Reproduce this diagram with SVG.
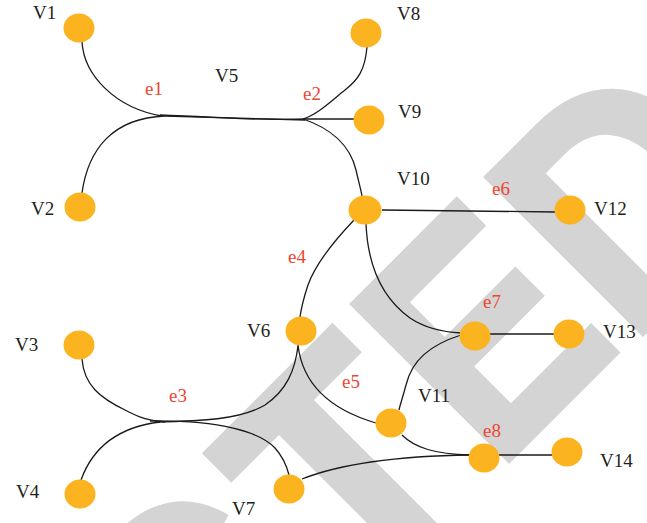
<svg xmlns="http://www.w3.org/2000/svg" width="647" height="523" viewBox="0 0 647 523">
<style>
.wm{font-family:"Liberation Sans",Arial,sans-serif;font-weight:bold;font-size:320px;fill:#d4d4d4;stroke:#d4d4d4;stroke-width:6;stroke-linejoin:miter}
.node{fill:#fbb31f}
.lbl{font-family:"Liberation Serif","Times New Roman",serif;font-size:19px;fill:#231f20}
.elbl{font-family:"Liberation Serif","Times New Roman",serif;font-size:19px;fill:#ec4632}
.edge{fill:none;stroke:#1a1a1a;stroke-width:1.3}
</style>
<rect width="647" height="523" fill="#ffffff"/>
<g id="watermark">
<text class="wm" transform="translate(210,764) rotate(-45) scale(0.9,1)" x="-13" y="-3">C</text>
<text class="wm" transform="translate(364,611) rotate(-45) scale(0.95,1)" x="-4" y="-3">T</text>
<text class="wm" transform="translate(510,463) rotate(-45) scale(0.85,1)" x="-20" y="-3">E</text>
<text class="wm" transform="translate(644,336) rotate(-45) scale(0.9,1)" x="-20" y="-3">D</text>
</g>
<g id="connectors">
<path class="edge" d="M82,42 C84,75 115,108 162,116"/>
<path class="edge" d="M82,193 C88,150 112,118 165,116"/>
<path class="edge" d="M160,115 C220,117 260,121 305,119"/>
<path class="edge" d="M165,116 L305,120"/>
<path class="edge" d="M367,47 C365,70 358,80 345,90 C330,102 318,114 303,119"/>
<path class="edge" d="M303,119 L356,119"/>
<path class="edge" d="M303,119 C330,128 350,145 356,170 C359,183 361,190 362,196"/>
<path class="edge" d="M382,210 L555,212"/>
<path class="edge" d="M354,220 C335,240 315,265 308,285 C303,300 301,310 300,317"/>
<path class="edge" d="M366,224 C368,270 385,300 410,318 C425,328 440,332 461,333"/>
<path class="edge" d="M490,334 L555,334"/>
<path class="edge" d="M461,335 C430,345 412,360 406,385 C402,400 400,405 399,410"/>
<path class="edge" d="M298,345 C302,380 325,408 376,423"/>
<path class="edge" d="M402,435 C415,448 435,454 470,455"/>
<path class="edge" d="M498,455 L552,455"/>
<path class="edge" d="M302,479 C340,464 400,456 470,455"/>
<path class="edge" d="M82,359 C84,385 100,398 125,410 C140,418 150,421 165,422"/>
<path class="edge" d="M81,480 C90,455 110,428 160,422"/>
<path class="edge" d="M155,422 C200,421 240,420 265,405 C287,390 295,370 298,346"/>
<path class="edge" d="M150,421 C220,420 260,432 275,448 C284,458 287,467 289,475"/>
</g>
<g id="V1"><ellipse class="node" cx="79" cy="28" rx="15.5" ry="14.5"/><text class="lbl" x="33" y="19">V1</text></g>
<g id="V2"><ellipse class="node" cx="80" cy="207" rx="15.5" ry="14.5"/><text class="lbl" x="31" y="215">V2</text></g>
<g id="V5"><text class="lbl" x="215" y="82">V5</text></g>
<g id="V8"><ellipse class="node" cx="366" cy="33" rx="15.5" ry="14.5"/><text class="lbl" x="397" y="20">V8</text></g>
<g id="V9"><ellipse class="node" cx="369" cy="120" rx="15.5" ry="14.5"/><text class="lbl" x="398" y="118">V9</text></g>
<g id="V10"><ellipse class="node" cx="365" cy="210" rx="16.5" ry="14.5"/><text class="lbl" x="397" y="185">V10</text></g>
<g id="V12"><ellipse class="node" cx="570" cy="210" rx="15.5" ry="14.5"/><text class="lbl" x="594" y="215">V12</text></g>
<g id="V3"><ellipse class="node" cx="79" cy="345" rx="15.5" ry="14.5"/><text class="lbl" x="15" y="351">V3</text></g>
<g id="V4"><ellipse class="node" cx="80" cy="494" rx="15.5" ry="14.5"/><text class="lbl" x="16" y="498">V4</text></g>
<g id="V6"><ellipse class="node" cx="301" cy="331" rx="15.5" ry="14.5"/><text class="lbl" x="247" y="337">V6</text></g>
<g id="V7"><ellipse class="node" cx="289" cy="489" rx="15.5" ry="14.5"/><text class="lbl" x="232" y="515">V7</text></g>
<g id="V11"><ellipse class="node" cx="391" cy="423" rx="15.5" ry="14.5"/><text class="lbl" x="418" y="402">V11</text></g>
<g id="N7"><ellipse class="node" cx="475" cy="336" rx="15.5" ry="14.5"/></g>
<g id="V13"><ellipse class="node" cx="569" cy="334" rx="15.5" ry="14.5"/><text class="lbl" x="603" y="338">V13</text></g>
<g id="N8"><ellipse class="node" cx="484" cy="458" rx="15.5" ry="14.5"/></g>
<g id="V14"><ellipse class="node" cx="567" cy="452" rx="15.5" ry="14.5"/><text class="lbl" x="600" y="467">V14</text></g>
<g id="edge-labels">
<text class="elbl" x="145" y="95">e1</text>
<text class="elbl" x="303" y="100">e2</text>
<text class="elbl" x="169" y="402">e3</text>
<text class="elbl" x="288" y="263">e4</text>
<text class="elbl" x="342" y="388">e5</text>
<text class="elbl" x="492" y="195">e6</text>
<text class="elbl" x="483" y="308">e7</text>
<text class="elbl" x="483" y="437">e8</text>
</g>
</svg>
